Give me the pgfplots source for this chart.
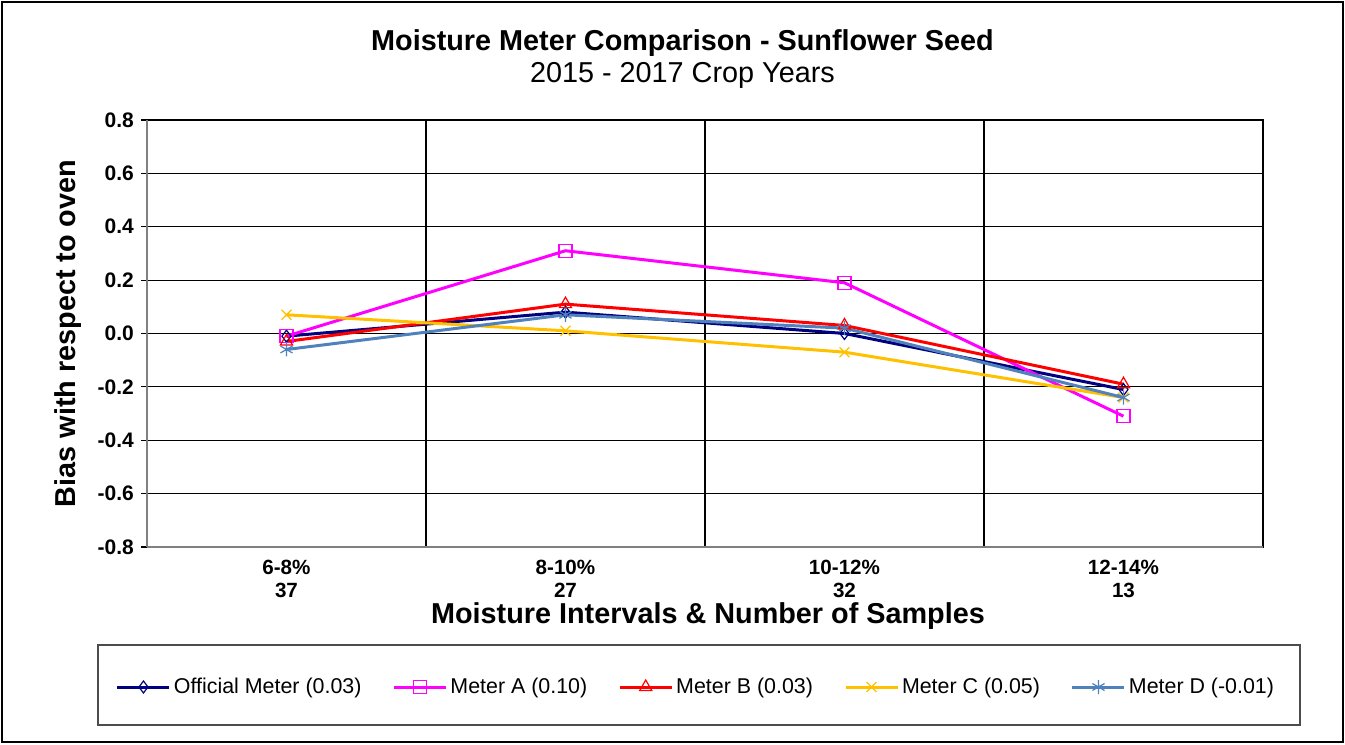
\documentclass[border=0pt]{standalone}
\usepackage{pgfplots}
\pgfplotsset{compat=1.18}
\usepackage{fontspec}
\setmainfont{Liberation Sans}
\definecolor{cOff}{RGB}{0,0,128}
\definecolor{cA}{RGB}{255,0,255}
\definecolor{cB}{RGB}{255,0,0}
\definecolor{cC}{RGB}{255,192,0}
\definecolor{cD}{RGB}{79,129,189}
\begin{document}
\begin{tikzpicture}
\begin{axis}[
  scale only axis, width=558pt, height=213.5pt,
  xmin=-0.5, xmax=3.5, ymin=-0.8, ymax=0.8,
  xtick={0,1,2,3},
  xticklabels={{6-8\%\\37},{8-10\%\\27},{10-12\%\\32},{12-14\%\\13}},
  xticklabel style={align=center, font=\bfseries\fontsize{10.3}{11.5}\selectfont},
  minor xtick={0.5,1.5,2.5}, xminorgrids,
  major x tick style={draw=none}, minor x tick style={draw=none},
  ytick={-0.8,-0.6,-0.4,-0.2,0,0.2,0.4,0.6,0.8},
  ymajorgrids,
  grid style={black, line width=0.6pt},
  minor grid style={black, line width=0.6pt},
  yticklabel style={font=\bfseries\fontsize{10.5}{12}\selectfont},
  /pgf/number format/.cd, fixed, fixed zerofill, precision=1, assume math mode=true, /pgfplots/.cd,
  tick align=outside, major tick length=3pt, ytick pos=left, xtick pos=bottom,
  major y tick style={black, line width=0.6pt},
  axis line style={black, line width=0.6pt},
  legend style={at={(rel axis cs:0.4924,-0.3279)}, anchor=center, draw=none, fill=none,
    legend columns=5, font=\fontsize{10.7}{12}\selectfont, nodes={inner sep=1.5pt},
    /tikz/every even column/.append style={column sep=14pt}},
  legend image code/.code={\draw[mark repeat=2,mark phase=2] plot coordinates {(0pt,0pt)(13pt,0pt)(26pt,0pt)};},
  clip=false,
]
\addplot[cOff, line width=1.5pt, mark=diamond, mark size=3pt, mark options={solid, line width=0.6pt, fill=white}]
  coordinates {(0,-0.01)(1,0.08)(2,0.00)(3,-0.21)};
\addlegendentry{Official Meter (0.03)}
\addplot[cA, line width=1.5pt, mark=square, mark size=3.25pt, mark options={solid, line width=0.6pt}]
  coordinates {(0,-0.01)(1,0.31)(2,0.19)(3,-0.31)};
\addlegendentry{Meter A (0.10)}
\addplot[cB, line width=1.5pt, mark=triangle, mark size=3.5pt, mark options={solid, line width=0.6pt}]
  coordinates {(0,-0.03)(1,0.11)(2,0.03)(3,-0.19)};
\addlegendentry{Meter B (0.03)}
\addplot[cC, line width=1.5pt, mark=x, mark size=3.5pt, mark options={solid, line width=0.6pt}]
  coordinates {(0,0.07)(1,0.01)(2,-0.07)(3,-0.24)};
\addlegendentry{Meter C (0.05)}
\addplot[cD, line width=1.5pt, mark=asterisk, mark size=3.5pt, mark options={solid, line width=0.6pt}]
  coordinates {(0,-0.06)(1,0.07)(2,0.02)(3,-0.24)};
\addlegendentry{Meter D (-0.01)}
\draw[gray, line width=1.1pt] (rel axis cs:0,0) -- (rel axis cs:0,1);
\draw[gray, line width=1.1pt] (rel axis cs:0,0) -- (rel axis cs:1,0);
\node[font=\bfseries\fontsize{14.4}{16}\selectfont] at (rel axis cs:0.4798,1.180) {Moisture Meter Comparison - Sunflower Seed};
\node[font=\fontsize{14.4}{16}\selectfont] at (rel axis cs:0.4798,1.105) {2015 - 2017 Crop Years};
\node[font=\bfseries\fontsize{14.4}{16}\selectfont] at (rel axis cs:0.5027,-0.1615) {Moisture Intervals \& Number of Samples};
\node[rotate=90, font=\bfseries\fontsize{14.4}{16}\selectfont] at (rel axis cs:-0.0708,0.5) {Bias with respect to oven};
\draw[black!70, line width=0.8pt] (rel axis cs:-0.0439,-0.2295) rectangle (rel axis cs:1.0332,-0.4169);
\coordinate (fr1) at (rel axis cs:-0.1317,1.2810);
\coordinate (fr2) at (rel axis cs:1.0735,-0.4614);
\end{axis}
\pgfresetboundingbox
\useasboundingbox (fr1) rectangle (fr2);
\draw[black, line width=0.8pt] ([shift={(0.9pt,-0.9pt)}]fr1) rectangle ([shift={(-0.9pt,0.9pt)}]fr2);
\end{tikzpicture}
\end{document}
